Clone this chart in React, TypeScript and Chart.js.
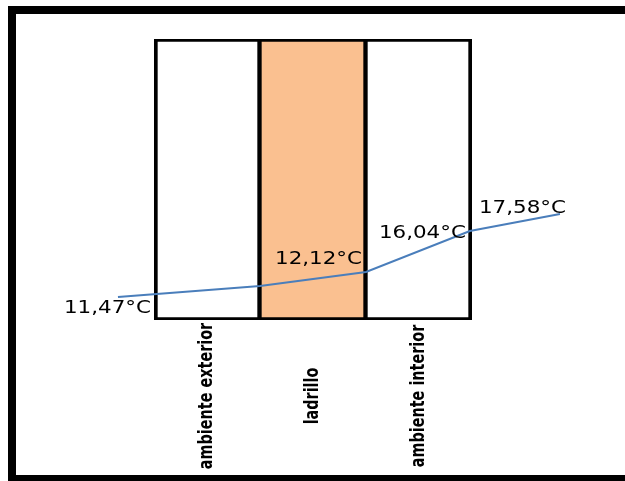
import React, { useEffect, useRef } from "react";
import { Chart, registerables } from "chart.js";

Chart.register(...registerables);

// Layers of the wall (bar categories)
const categories = ["ambiente exterior", "ladrillo", "ambiente interior"];
const layerHeights = [1, 1, 1];
const layerColors = ["#FFFFFF", "#FAC090", "#FFFFFF"];

// Temperature profile (hidden scatter axes)
const profileX = [-0.34, 1, 2, 2.98, 3.83];
const profileY = [11.47, 12.28, 13.31, 16.33, 17.58];
const profileLabels = ["11,47°C", "", "12,12°C", "16,04°C", "17,58°C"];

// label anchor offsets relative to each point (style only)
const labelOffsets = [
  [33, 16],
  [0, 0],
  [-4, -8],
  [-4, 7],
  [6, -1],
];

const labelsPlugin = {
  id: "profileLabels",
  afterDatasetsDraw(chart: any) {
    const ctx = chart.ctx;
    const meta = chart.getDatasetMeta(1);
    ctx.save();
    ctx.fillStyle = "#000";
    ctx.font = '18px "DejaVu Sans"';
    ctx.textAlign = "right";
    ctx.textBaseline = "alphabetic";
    meta.data.forEach((pt: any, i: number) => {
      const txt = profileLabels[i];
      if (!txt) return;
      ctx.save();
      ctx.translate(pt.x + labelOffsets[i][0], pt.y + labelOffsets[i][1]);
      ctx.scale(1.19, 1);
      ctx.fillText(txt, 0, 0);
      ctx.restore();
    });
    // category labels, rotated
    const xs = chart.scales.x;
    ctx.font = 'bold 16px "Liberation Sans Narrow", "DejaVu Sans Condensed", "Liberation Sans"';
    ctx.textAlign = "center";
    ctx.textBaseline = "middle";
    categories.forEach((c, i) => {
      const x = xs.getPixelForValue(i);
      ctx.save();
      ctx.translate(x, 396);
      ctx.rotate(-Math.PI / 2);
      ctx.scale(1, 1.19);
      ctx.fillText(c, 0, 0);
      ctx.restore();
    });
    ctx.restore();
  },
};

export default function App() {
  const ref = useRef<HTMLCanvasElement>(null);
  useEffect(() => {
    if (!ref.current) return;
    const chart = new Chart(ref.current, {
      type: "bar",
      data: {
        labels: categories,
        datasets: [
          {
            type: "bar",
            data: layerHeights,
            backgroundColor: layerColors,
            borderColor: "#000000",
            borderWidth: (c: any) => ({
              left: c.dataIndex === 0 ? 4 : 2,
              right: c.dataIndex === 2 ? 4 : 3,
              top: 3,
              bottom: 3,
            }),
            borderSkipped: false,
            barPercentage: 1,
            categoryPercentage: 1,
            grouped: false,
            order: 2,
          } as any,
          {
            type: "line",
            data: profileX.map((x, i) => ({ x, y: profileY[i] })),
            xAxisID: "x2",
            yAxisID: "y2",
            borderColor: "#4A7EBB",
            borderWidth: 2,
            pointRadius: 0,
            tension: 0,
            clip: false,
            order: 1,
          } as any,
        ],
      },
      options: {
        animation: false,
        responsive: true,
        maintainAspectRatio: false,
        layout: { padding: { left: 154, top: 39, right: 153, bottom: 161 } },
        plugins: { legend: { display: false }, tooltip: { enabled: false } },
        scales: {
          x: { type: "category", display: false, offset: true },
          y: { display: false, min: 0, max: 1 },
          x2: { type: "linear", display: false, min: 0, max: 3, offset: false, grid: { offset: false } },
          y2: { type: "linear", display: false, min: 9.78, max: 30.46 },
        },
      },
      plugins: [labelsPlugin],
    });
    return () => chart.destroy();
  }, []);

  return (
    <div style={{ position: "fixed", left: 0, top: 0, width: 625, height: 481, background: "#fff", overflow: "hidden" }}>
      <div
        style={{
          position: "absolute",
          left: 8,
          top: 6,
          right: -10,
          bottom: 0,
          borderLeft: "8px solid #000",
          borderTop: "8px solid #000",
          borderBottom: "6px solid #000",
          boxSizing: "border-box",
        }}
      />
      <div style={{ position: "absolute", left: 0, top: 0, width: 625, height: 481 }}>
        <canvas ref={ref} />
      </div>
    </div>
  );
}
